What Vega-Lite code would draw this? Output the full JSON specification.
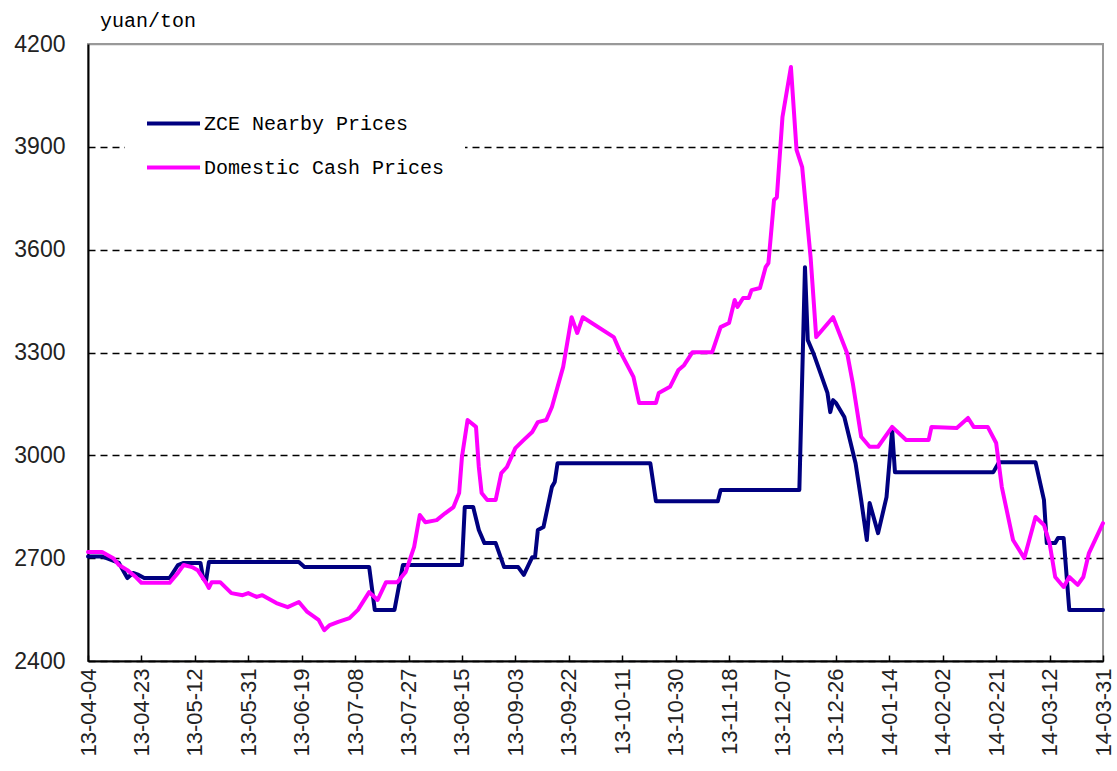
{
  "$schema": "https://vega.github.io/schema/vega-lite/v6.json",
  "autosize": {"type": "none"},
  "width": 1015,
  "height": 617,
  "padding": {"left": 88, "top": 44, "right": 14, "bottom": 110},
  "background": "white",
  "title": {"text": "yuan/ton", "anchor": "start", "frame": "group", "dx": 12, "offset": 2, "font": "Liberation Mono", "fontSize": 20, "fontWeight": "normal", "color": "black"},
  "config": {
    "view": {"stroke": "#999999", "strokeWidth": 2},
    "axis": {"labelFont": "Liberation Sans", "labelColor": "#222222", "titleFont": "Liberation Sans"}
  },
  "data": {"values": [
    {"date": "2013-04-04", "price": 2705, "series": "ZCE Nearby Prices"},
    {"date": "2013-04-09", "price": 2705, "series": "ZCE Nearby Prices"},
    {"date": "2013-04-15", "price": 2686, "series": "ZCE Nearby Prices"},
    {"date": "2013-04-18", "price": 2642, "series": "ZCE Nearby Prices"},
    {"date": "2013-04-20", "price": 2657, "series": "ZCE Nearby Prices"},
    {"date": "2013-04-22", "price": 2651, "series": "ZCE Nearby Prices"},
    {"date": "2013-04-24", "price": 2642, "series": "ZCE Nearby Prices"},
    {"date": "2013-05-03", "price": 2642, "series": "ZCE Nearby Prices"},
    {"date": "2013-05-06", "price": 2680, "series": "ZCE Nearby Prices"},
    {"date": "2013-05-08", "price": 2686, "series": "ZCE Nearby Prices"},
    {"date": "2013-05-14", "price": 2686, "series": "ZCE Nearby Prices"},
    {"date": "2013-05-15", "price": 2640, "series": "ZCE Nearby Prices"},
    {"date": "2013-05-16", "price": 2635, "series": "ZCE Nearby Prices"},
    {"date": "2013-05-17", "price": 2689, "series": "ZCE Nearby Prices"},
    {"date": "2013-06-18", "price": 2689, "series": "ZCE Nearby Prices"},
    {"date": "2013-06-20", "price": 2674, "series": "ZCE Nearby Prices"},
    {"date": "2013-07-13", "price": 2674, "series": "ZCE Nearby Prices"},
    {"date": "2013-07-15", "price": 2549, "series": "ZCE Nearby Prices"},
    {"date": "2013-07-22", "price": 2549, "series": "ZCE Nearby Prices"},
    {"date": "2013-07-25", "price": 2680, "series": "ZCE Nearby Prices"},
    {"date": "2013-08-15", "price": 2680, "series": "ZCE Nearby Prices"},
    {"date": "2013-08-16", "price": 2849, "series": "ZCE Nearby Prices"},
    {"date": "2013-08-19", "price": 2849, "series": "ZCE Nearby Prices"},
    {"date": "2013-08-21", "price": 2782, "series": "ZCE Nearby Prices"},
    {"date": "2013-08-23", "price": 2744, "series": "ZCE Nearby Prices"},
    {"date": "2013-08-27", "price": 2744, "series": "ZCE Nearby Prices"},
    {"date": "2013-08-30", "price": 2674, "series": "ZCE Nearby Prices"},
    {"date": "2013-09-04", "price": 2674, "series": "ZCE Nearby Prices"},
    {"date": "2013-09-06", "price": 2651, "series": "ZCE Nearby Prices"},
    {"date": "2013-09-09", "price": 2703, "series": "ZCE Nearby Prices"},
    {"date": "2013-09-10", "price": 2703, "series": "ZCE Nearby Prices"},
    {"date": "2013-09-11", "price": 2782, "series": "ZCE Nearby Prices"},
    {"date": "2013-09-13", "price": 2791, "series": "ZCE Nearby Prices"},
    {"date": "2013-09-16", "price": 2908, "series": "ZCE Nearby Prices"},
    {"date": "2013-09-17", "price": 2922, "series": "ZCE Nearby Prices"},
    {"date": "2013-09-18", "price": 2977, "series": "ZCE Nearby Prices"},
    {"date": "2013-10-21", "price": 2977, "series": "ZCE Nearby Prices"},
    {"date": "2013-10-23", "price": 2866, "series": "ZCE Nearby Prices"},
    {"date": "2013-11-14", "price": 2866, "series": "ZCE Nearby Prices"},
    {"date": "2013-11-15", "price": 2899, "series": "ZCE Nearby Prices"},
    {"date": "2013-12-13", "price": 2899, "series": "ZCE Nearby Prices"},
    {"date": "2013-12-15", "price": 3549, "series": "ZCE Nearby Prices"},
    {"date": "2013-12-16", "price": 3336, "series": "ZCE Nearby Prices"},
    {"date": "2013-12-18", "price": 3298, "series": "ZCE Nearby Prices"},
    {"date": "2013-12-23", "price": 3182, "series": "ZCE Nearby Prices"},
    {"date": "2013-12-24", "price": 3126, "series": "ZCE Nearby Prices"},
    {"date": "2013-12-25", "price": 3161, "series": "ZCE Nearby Prices"},
    {"date": "2013-12-26", "price": 3153, "series": "ZCE Nearby Prices"},
    {"date": "2013-12-29", "price": 3112, "series": "ZCE Nearby Prices"},
    {"date": "2014-01-02", "price": 2977, "series": "ZCE Nearby Prices"},
    {"date": "2014-01-04", "price": 2869, "series": "ZCE Nearby Prices"},
    {"date": "2014-01-06", "price": 2753, "series": "ZCE Nearby Prices"},
    {"date": "2014-01-07", "price": 2861, "series": "ZCE Nearby Prices"},
    {"date": "2014-01-10", "price": 2773, "series": "ZCE Nearby Prices"},
    {"date": "2014-01-13", "price": 2878, "series": "ZCE Nearby Prices"},
    {"date": "2014-01-15", "price": 3074, "series": "ZCE Nearby Prices"},
    {"date": "2014-01-16", "price": 2951, "series": "ZCE Nearby Prices"},
    {"date": "2014-02-20", "price": 2951, "series": "ZCE Nearby Prices"},
    {"date": "2014-02-22", "price": 2980, "series": "ZCE Nearby Prices"},
    {"date": "2014-03-07", "price": 2980, "series": "ZCE Nearby Prices"},
    {"date": "2014-03-10", "price": 2870, "series": "ZCE Nearby Prices"},
    {"date": "2014-03-11", "price": 2744, "series": "ZCE Nearby Prices"},
    {"date": "2014-03-14", "price": 2744, "series": "ZCE Nearby Prices"},
    {"date": "2014-03-15", "price": 2759, "series": "ZCE Nearby Prices"},
    {"date": "2014-03-17", "price": 2759, "series": "ZCE Nearby Prices"},
    {"date": "2014-03-19", "price": 2549, "series": "ZCE Nearby Prices"},
    {"date": "2014-03-31", "price": 2549, "series": "ZCE Nearby Prices"},
    {"date": "2013-04-04", "price": 2718, "series": "Domestic Cash Prices"},
    {"date": "2013-04-09", "price": 2718, "series": "Domestic Cash Prices"},
    {"date": "2013-04-13", "price": 2700, "series": "Domestic Cash Prices"},
    {"date": "2013-04-15", "price": 2680, "series": "Domestic Cash Prices"},
    {"date": "2013-04-18", "price": 2665, "series": "Domestic Cash Prices"},
    {"date": "2013-04-21", "price": 2645, "series": "Domestic Cash Prices"},
    {"date": "2013-04-23", "price": 2628, "series": "Domestic Cash Prices"},
    {"date": "2013-05-03", "price": 2628, "series": "Domestic Cash Prices"},
    {"date": "2013-05-06", "price": 2657, "series": "Domestic Cash Prices"},
    {"date": "2013-05-08", "price": 2680, "series": "Domestic Cash Prices"},
    {"date": "2013-05-11", "price": 2674, "series": "Domestic Cash Prices"},
    {"date": "2013-05-13", "price": 2665, "series": "Domestic Cash Prices"},
    {"date": "2013-05-16", "price": 2628, "series": "Domestic Cash Prices"},
    {"date": "2013-05-17", "price": 2613, "series": "Domestic Cash Prices"},
    {"date": "2013-05-18", "price": 2630, "series": "Domestic Cash Prices"},
    {"date": "2013-05-21", "price": 2630, "series": "Domestic Cash Prices"},
    {"date": "2013-05-25", "price": 2598, "series": "Domestic Cash Prices"},
    {"date": "2013-05-29", "price": 2592, "series": "Domestic Cash Prices"},
    {"date": "2013-05-31", "price": 2598, "series": "Domestic Cash Prices"},
    {"date": "2013-06-03", "price": 2587, "series": "Domestic Cash Prices"},
    {"date": "2013-06-05", "price": 2592, "series": "Domestic Cash Prices"},
    {"date": "2013-06-10", "price": 2569, "series": "Domestic Cash Prices"},
    {"date": "2013-06-14", "price": 2557, "series": "Domestic Cash Prices"},
    {"date": "2013-06-18", "price": 2572, "series": "Domestic Cash Prices"},
    {"date": "2013-06-21", "price": 2543, "series": "Domestic Cash Prices"},
    {"date": "2013-06-25", "price": 2520, "series": "Domestic Cash Prices"},
    {"date": "2013-06-27", "price": 2490, "series": "Domestic Cash Prices"},
    {"date": "2013-06-29", "price": 2505, "series": "Domestic Cash Prices"},
    {"date": "2013-07-02", "price": 2514, "series": "Domestic Cash Prices"},
    {"date": "2013-07-06", "price": 2525, "series": "Domestic Cash Prices"},
    {"date": "2013-07-09", "price": 2549, "series": "Domestic Cash Prices"},
    {"date": "2013-07-13", "price": 2601, "series": "Domestic Cash Prices"},
    {"date": "2013-07-16", "price": 2578, "series": "Domestic Cash Prices"},
    {"date": "2013-07-19", "price": 2630, "series": "Domestic Cash Prices"},
    {"date": "2013-07-23", "price": 2630, "series": "Domestic Cash Prices"},
    {"date": "2013-07-26", "price": 2660, "series": "Domestic Cash Prices"},
    {"date": "2013-07-29", "price": 2733, "series": "Domestic Cash Prices"},
    {"date": "2013-07-31", "price": 2826, "series": "Domestic Cash Prices"},
    {"date": "2013-08-02", "price": 2805, "series": "Domestic Cash Prices"},
    {"date": "2013-08-06", "price": 2811, "series": "Domestic Cash Prices"},
    {"date": "2013-08-09", "price": 2831, "series": "Domestic Cash Prices"},
    {"date": "2013-08-12", "price": 2849, "series": "Domestic Cash Prices"},
    {"date": "2013-08-14", "price": 2890, "series": "Domestic Cash Prices"},
    {"date": "2013-08-15", "price": 2995, "series": "Domestic Cash Prices"},
    {"date": "2013-08-17", "price": 3103, "series": "Domestic Cash Prices"},
    {"date": "2013-08-20", "price": 3083, "series": "Domestic Cash Prices"},
    {"date": "2013-08-21", "price": 2966, "series": "Domestic Cash Prices"},
    {"date": "2013-08-22", "price": 2890, "series": "Domestic Cash Prices"},
    {"date": "2013-08-24", "price": 2870, "series": "Domestic Cash Prices"},
    {"date": "2013-08-27", "price": 2870, "series": "Domestic Cash Prices"},
    {"date": "2013-08-29", "price": 2948, "series": "Domestic Cash Prices"},
    {"date": "2013-08-31", "price": 2966, "series": "Domestic Cash Prices"},
    {"date": "2013-09-03", "price": 3021, "series": "Domestic Cash Prices"},
    {"date": "2013-09-06", "price": 3045, "series": "Domestic Cash Prices"},
    {"date": "2013-09-09", "price": 3068, "series": "Domestic Cash Prices"},
    {"date": "2013-09-11", "price": 3097, "series": "Domestic Cash Prices"},
    {"date": "2013-09-14", "price": 3103, "series": "Domestic Cash Prices"},
    {"date": "2013-09-16", "price": 3141, "series": "Domestic Cash Prices"},
    {"date": "2013-09-20", "price": 3258, "series": "Domestic Cash Prices"},
    {"date": "2013-09-23", "price": 3403, "series": "Domestic Cash Prices"},
    {"date": "2013-09-25", "price": 3357, "series": "Domestic Cash Prices"},
    {"date": "2013-09-27", "price": 3403, "series": "Domestic Cash Prices"},
    {"date": "2013-10-08", "price": 3345, "series": "Domestic Cash Prices"},
    {"date": "2013-10-10", "price": 3307, "series": "Domestic Cash Prices"},
    {"date": "2013-10-15", "price": 3229, "series": "Domestic Cash Prices"},
    {"date": "2013-10-17", "price": 3153, "series": "Domestic Cash Prices"},
    {"date": "2013-10-23", "price": 3153, "series": "Domestic Cash Prices"},
    {"date": "2013-10-24", "price": 3182, "series": "Domestic Cash Prices"},
    {"date": "2013-10-28", "price": 3200, "series": "Domestic Cash Prices"},
    {"date": "2013-10-31", "price": 3249, "series": "Domestic Cash Prices"},
    {"date": "2013-11-02", "price": 3263, "series": "Domestic Cash Prices"},
    {"date": "2013-11-05", "price": 3301, "series": "Domestic Cash Prices"},
    {"date": "2013-11-12", "price": 3301, "series": "Domestic Cash Prices"},
    {"date": "2013-11-15", "price": 3374, "series": "Domestic Cash Prices"},
    {"date": "2013-11-18", "price": 3386, "series": "Domestic Cash Prices"},
    {"date": "2013-11-20", "price": 3453, "series": "Domestic Cash Prices"},
    {"date": "2013-11-21", "price": 3433, "series": "Domestic Cash Prices"},
    {"date": "2013-11-23", "price": 3459, "series": "Domestic Cash Prices"},
    {"date": "2013-11-25", "price": 3459, "series": "Domestic Cash Prices"},
    {"date": "2013-11-26", "price": 3482, "series": "Domestic Cash Prices"},
    {"date": "2013-11-29", "price": 3488, "series": "Domestic Cash Prices"},
    {"date": "2013-12-01", "price": 3549, "series": "Domestic Cash Prices"},
    {"date": "2013-12-02", "price": 3561, "series": "Domestic Cash Prices"},
    {"date": "2013-12-04", "price": 3745, "series": "Domestic Cash Prices"},
    {"date": "2013-12-05", "price": 3753, "series": "Domestic Cash Prices"},
    {"date": "2013-12-07", "price": 3987, "series": "Domestic Cash Prices"},
    {"date": "2013-12-10", "price": 4133, "series": "Domestic Cash Prices"},
    {"date": "2013-12-12", "price": 3891, "series": "Domestic Cash Prices"},
    {"date": "2013-12-14", "price": 3841, "series": "Domestic Cash Prices"},
    {"date": "2013-12-17", "price": 3578, "series": "Domestic Cash Prices"},
    {"date": "2013-12-19", "price": 3345, "series": "Domestic Cash Prices"},
    {"date": "2013-12-25", "price": 3403, "series": "Domestic Cash Prices"},
    {"date": "2013-12-30", "price": 3298, "series": "Domestic Cash Prices"},
    {"date": "2014-01-01", "price": 3211, "series": "Domestic Cash Prices"},
    {"date": "2014-01-04", "price": 3054, "series": "Domestic Cash Prices"},
    {"date": "2014-01-07", "price": 3025, "series": "Domestic Cash Prices"},
    {"date": "2014-01-10", "price": 3025, "series": "Domestic Cash Prices"},
    {"date": "2014-01-15", "price": 3083, "series": "Domestic Cash Prices"},
    {"date": "2014-01-20", "price": 3045, "series": "Domestic Cash Prices"},
    {"date": "2014-01-28", "price": 3045, "series": "Domestic Cash Prices"},
    {"date": "2014-01-29", "price": 3083, "series": "Domestic Cash Prices"},
    {"date": "2014-02-07", "price": 3080, "series": "Domestic Cash Prices"},
    {"date": "2014-02-11", "price": 3109, "series": "Domestic Cash Prices"},
    {"date": "2014-02-13", "price": 3083, "series": "Domestic Cash Prices"},
    {"date": "2014-02-18", "price": 3083, "series": "Domestic Cash Prices"},
    {"date": "2014-02-21", "price": 3036, "series": "Domestic Cash Prices"},
    {"date": "2014-02-23", "price": 2908, "series": "Domestic Cash Prices"},
    {"date": "2014-02-27", "price": 2753, "series": "Domestic Cash Prices"},
    {"date": "2014-03-03", "price": 2700, "series": "Domestic Cash Prices"},
    {"date": "2014-03-07", "price": 2820, "series": "Domestic Cash Prices"},
    {"date": "2014-03-10", "price": 2797, "series": "Domestic Cash Prices"},
    {"date": "2014-03-12", "price": 2744, "series": "Domestic Cash Prices"},
    {"date": "2014-03-14", "price": 2645, "series": "Domestic Cash Prices"},
    {"date": "2014-03-17", "price": 2616, "series": "Domestic Cash Prices"},
    {"date": "2014-03-19", "price": 2645, "series": "Domestic Cash Prices"},
    {"date": "2014-03-22", "price": 2622, "series": "Domestic Cash Prices"},
    {"date": "2014-03-24", "price": 2645, "series": "Domestic Cash Prices"},
    {"date": "2014-03-26", "price": 2715, "series": "Domestic Cash Prices"},
    {"date": "2014-03-31", "price": 2802, "series": "Domestic Cash Prices"}
  ]},
  "encoding": {
    "x": {
      "field": "date", "type": "temporal",
      "scale": {"type": "utc", "domain": [{"year": 2013, "month": 4, "date": 4, "utc": true}, {"year": 2014, "month": 3, "date": 31, "utc": true}]},
      "axis": {
        "title": null,
        "values": [
          {"year": 2013, "month": 4, "date": 4, "utc": true},
          {"year": 2013, "month": 4, "date": 23, "utc": true},
          {"year": 2013, "month": 5, "date": 12, "utc": true},
          {"year": 2013, "month": 5, "date": 31, "utc": true},
          {"year": 2013, "month": 6, "date": 19, "utc": true},
          {"year": 2013, "month": 7, "date": 8, "utc": true},
          {"year": 2013, "month": 7, "date": 27, "utc": true},
          {"year": 2013, "month": 8, "date": 15, "utc": true},
          {"year": 2013, "month": 9, "date": 3, "utc": true},
          {"year": 2013, "month": 9, "date": 22, "utc": true},
          {"year": 2013, "month": 10, "date": 11, "utc": true},
          {"year": 2013, "month": 10, "date": 30, "utc": true},
          {"year": 2013, "month": 11, "date": 18, "utc": true},
          {"year": 2013, "month": 12, "date": 7, "utc": true},
          {"year": 2013, "month": 12, "date": 26, "utc": true},
          {"year": 2014, "month": 1, "date": 14, "utc": true},
          {"year": 2014, "month": 2, "date": 2, "utc": true},
          {"year": 2014, "month": 2, "date": 21, "utc": true},
          {"year": 2014, "month": 3, "date": 12, "utc": true},
          {"year": 2014, "month": 3, "date": 31, "utc": true}
        ],
        "labelExpr": "utcFormat(datum.value, '%y-%m-%d')",
        "labelAngle": -90,
        "labelFontSize": 22,
        "labelPadding": 13,
        "labelFlush": false,
        "labelOverlap": false,
        "labelBound": false,
        "tickSize": -6,
        "tickColor": "black",
        "tickWidth": 1.5,
        "domainColor": "black",
        "domainWidth": 2,
        "grid": false
      }
    },
    "y": {
      "field": "price", "type": "quantitative",
      "scale": {"domain": [2400, 4200], "nice": false, "zero": false},
      "axis": {
        "title": null,
        "values": [2400, 2700, 3000, 3300, 3600, 3900, 4200],
        "format": "d",
        "labelFontSize": 23,
        "labelPadding": 23,
        "ticks": false,
        "domainColor": "black",
        "domainWidth": 2,
        "grid": true,
        "gridColor": {"condition": {"test": "datum.value == 4200", "value": "#999999"}, "value": "black"},
        "gridDash": {"condition": {"test": "datum.value == 4200", "value": []}, "value": [7, 5]},
        "gridWidth": 1.5
      }
    },
    "color": {
      "field": "series", "type": "nominal",
      "scale": {"domain": ["ZCE Nearby Prices", "Domestic Cash Prices"], "range": ["#000080", "#FF00FF"]},
      "legend": {
        "title": null,
        "orient": "none",
        "legendX": 37,
        "legendY": 31,
        "direction": "vertical",
        "fillColor": "white",
        "padding": 20,
        "symbolType": "stroke",
        "symbolSize": 2809,
        "symbolStrokeWidth": 4,
        "labelFont": "Liberation Mono",
        "labelFontSize": 20,
        "labelColor": "black",
        "labelOffset": 2,
        "labelLimit": 400,
        "rowPadding": 5
      }
    }
  },
  "layer": [
    {
      "transform": [{"filter": "datum.series == 'ZCE Nearby Prices'"}],
      "mark": {"type": "line", "strokeWidth": 4, "strokeJoin": "round", "strokeCap": "round"}
    },
    {
      "transform": [{"filter": "datum.series == 'Domestic Cash Prices'"}],
      "mark": {"type": "line", "strokeWidth": 4, "strokeJoin": "round", "strokeCap": "round"}
    }
  ]
}
